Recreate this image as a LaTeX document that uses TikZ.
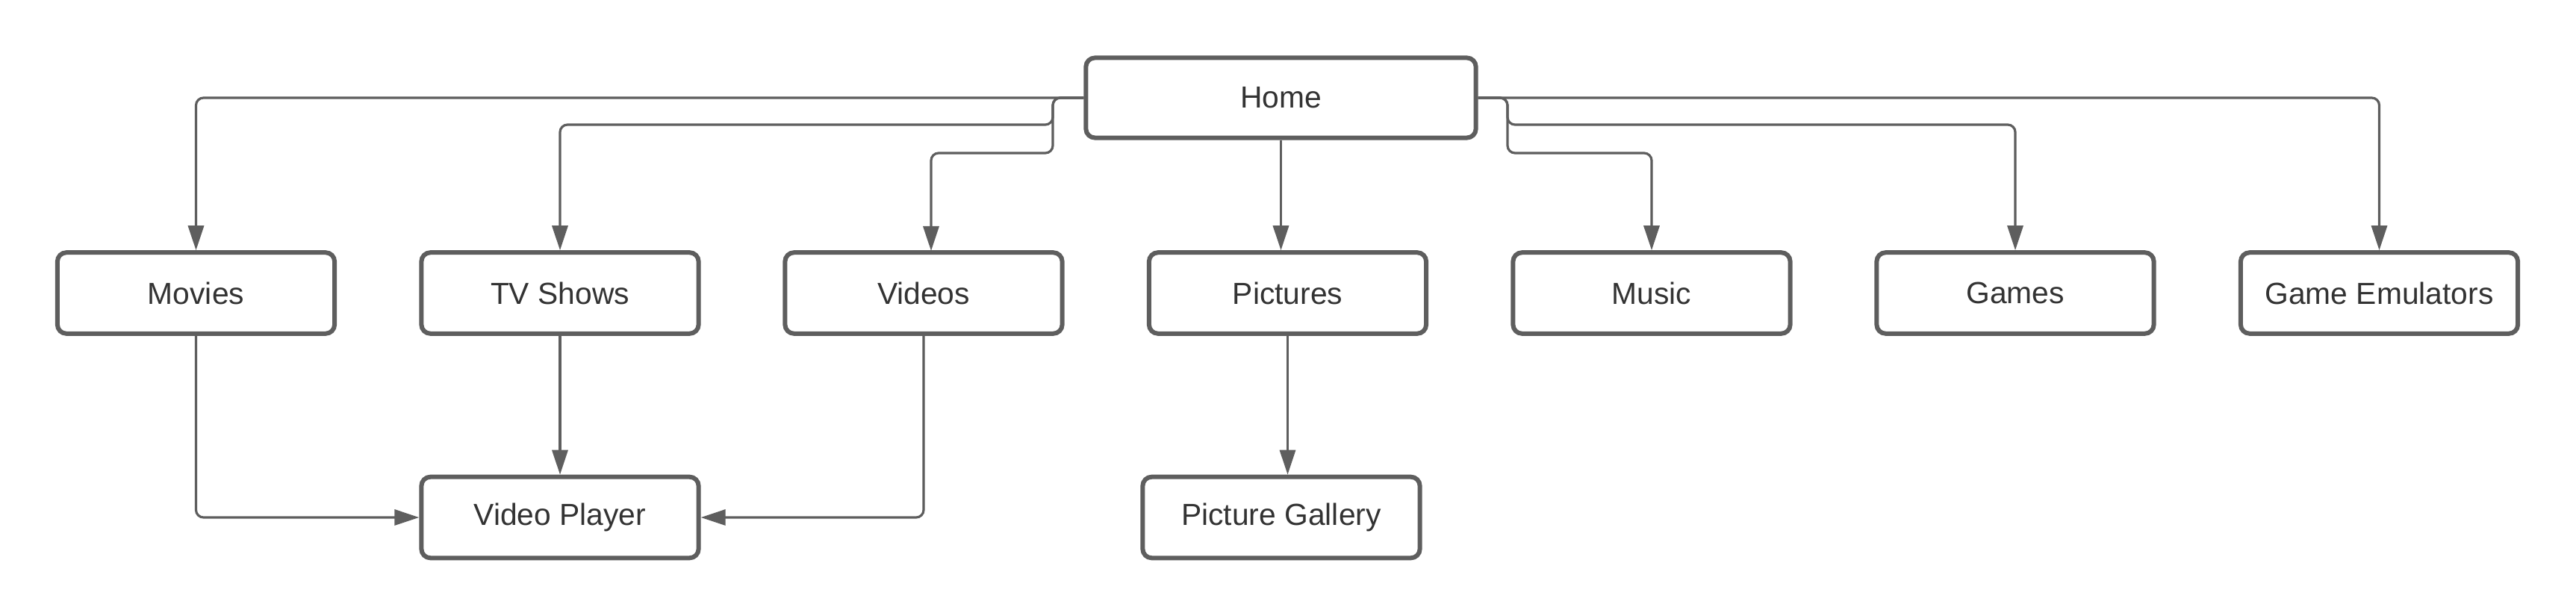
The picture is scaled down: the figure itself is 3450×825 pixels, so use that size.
\documentclass[tikz,border=0pt]{standalone}
\usepackage{fontspec}
\setmainfont{Liberation Sans}
\usetikzlibrary{arrows.meta}
\definecolor{linegray}{HTML}{5E5E5E}
\definecolor{textgray}{HTML}{333333}
\begin{document}
\begin{tikzpicture}[x=0.01cm,y=-0.01cm,
  box/.style={draw=linegray, line width=0.06cm, rounded corners=0.12cm, fill=white,
    minimum width=3.71cm, minimum height=1.085cm, inner sep=0pt,
    text=textgray, font=\fontsize{11.6pt}{14pt}\selectfont},
  conn/.style={draw=linegray, line width=0.032cm, rounded corners=0.1cm,
    -{Triangle[length=0.33cm,width=0.21cm]}}]
\useasboundingbox (0,0) rectangle (3450,825);
% nodes
\node[box, minimum width=5.22cm, minimum height=1.07cm] (home) at (1715.5,131) {Home};
\node[box] (movies) at (262.5,392.5) {Movies};
\node[box] (tv) at (750,392.5) {TV Shows};
\node[box] (videos) at (1237,392.5) {Videos};
\node[box] (pictures) at (1724.5,392.5) {Pictures};
\node[box] (music) at (2212,392.5) {Music};
\node[box] (games) at (2699,392.5) {Games};
\node[box] (emu) at (3186.5,392.5) {Game Emulators};
\node[box] (vp) at (750,693) {Video Player};
\node[box] (gallery) at (1716,693) {Picture Gallery};
% junction coordinates
\coordinate (tl1) at (1410,167);
\coordinate (tl2) at (1410,205);
\coordinate (tr1) at (2019,167);
\coordinate (tr2) at (2019,205);
\coordinate (vin) at (1247,336);
% connectors from Home
\draw[conn] (home.west) -| (movies.north);
\draw[conn] (home.west) -| (tl1) -| (tv.north);
\draw[conn] (home.west) -| (tl2) -| (vin);
\draw[conn] (home.south) -- (home.south |- pictures.north);
\draw[conn] (home.east) -| (tr2) -| (music.north);
\draw[conn] (home.east) -| (tr1) -| (games.north);
\draw[conn] (home.east) -| (emu.north);
% lower connectors
\draw[conn] (movies.south) |- (vp.west);
\draw[conn] (tv.south) -- (vp.north);
\draw[conn] (videos.south) |- (vp.east);
\draw[conn] (pictures.south) -- (pictures.south |- gallery.north);
\end{tikzpicture}
\end{document}
